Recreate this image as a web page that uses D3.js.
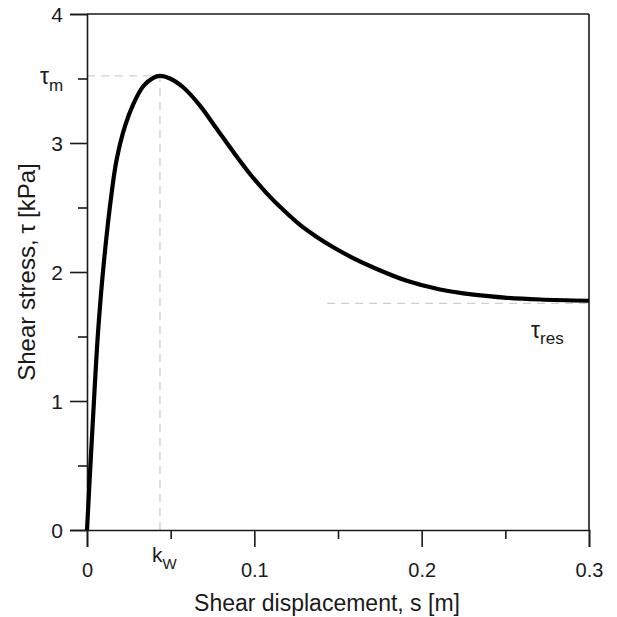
<!DOCTYPE html>
<html>
<head>
<meta charset="utf-8">
<script src="https://cdn.jsdelivr.net/npm/d3@7/dist/d3.min.js"></script>
<style>
  html, body { margin: 0; padding: 0; background: #fff; }
  svg { display: block; }
  text { font-family: "Liberation Sans", Arial, sans-serif; fill: #1a1a1a; }
</style>
</head>
<body>
<script>
// Shear displacement s [m]
const sValues = [0, 0.0022, 0.0044, 0.0068, 0.0102, 0.0147, 0.0177, 0.0227, 0.0276, 0.0336, 0.0396, 0.0436,
  0.0496, 0.0576, 0.0675, 0.0775, 0.0875, 0.0974, 0.1074, 0.1174, 0.1273, 0.1373, 0.1472, 0.1570,
  0.1711, 0.1911, 0.2110, 0.2310, 0.2510, 0.2710, 0.3000];
// Shear stress tau [kPa]
const tauValues = [0, 0.54, 1.06, 1.57, 2.09, 2.61, 2.87, 3.13, 3.30, 3.44, 3.505, 3.52,
  3.50, 3.43, 3.29, 3.11, 2.93, 2.76, 2.61, 2.48, 2.365, 2.272, 2.192, 2.122,
  2.035, 1.932, 1.864, 1.824, 1.80, 1.787, 1.777];

const xTickValues = [0, 0.05, 0.1, 0.15, 0.2, 0.25, 0.3];
const xTickLabels = ["0", "", "0.1", "", "0.2", "", "0.3"];
const yTickValues = [0, 0.5, 1, 1.5, 2, 2.5, 3, 3.5, 4];
const yTickLabels = ["0", "", "1", "", "2", "", "3", "", "4"];

const peakS = 0.0436;   // k_W
const peakTau = 3.52;   // tau_m
const resTau = 1.757;   // tau_res
const resStartS = 0.1435;

const W = 617, H = 617;
const mLeft = 87, mRight = 589, mTop = 14, mBottom = 530;

const svg = d3.select("body").append("svg").attr("width", W).attr("height", H);
const x = d3.scaleLinear().domain([0, 0.3]).range([mLeft, mRight]);
const y = d3.scaleLinear().domain([0, 4]).range([mBottom, mTop]);

const axisColor = "#1a1a1a";

// dashed guide lines
const guides = svg.append("g").attr("stroke", "#cfcfcf").attr("stroke-width", 1.4)
  .attr("stroke-dasharray", "8,6").attr("fill", "none");
guides.append("line").attr("x1", x(0)).attr("x2", x(peakS)).attr("y1", y(peakTau)).attr("y2", y(peakTau));
guides.append("line").attr("x1", x(peakS)).attr("x2", x(peakS)).attr("y1", y(0)).attr("y2", y(peakTau));
guides.append("line").attr("x1", x(resStartS)).attr("x2", x(0.3)).attr("y1", y(resTau)).attr("y2", y(resTau));

// axes
const xAxis = d3.axisBottom(x).tickValues(xTickValues).tickSizeOuter(0)
  .tickSize(17).tickFormat((d, i) => xTickLabels[i]);
const gx = svg.append("g").attr("transform", `translate(0,${mBottom})`).call(xAxis);
gx.selectAll(".tick line").attr("y2", (d, i) => xTickLabels[i] === "" ? 9 : 17);
gx.select(".domain").attr("stroke", axisColor).attr("stroke-width", 1.6);
gx.selectAll(".tick line").attr("stroke", axisColor).attr("stroke-width", 1.6);
gx.selectAll(".tick text").attr("font-size", 20).attr("dy", 0).attr("y", 47)
  .style("font-family", "'Liberation Sans', Arial, sans-serif").attr("fill", "#1a1a1a");

const yAxis = d3.axisLeft(y).tickValues(yTickValues).tickSizeOuter(0)
  .tickSize(17).tickFormat((d, i) => yTickLabels[i]);
const gy = svg.append("g").attr("transform", `translate(${mLeft},0)`).call(yAxis);
gy.selectAll(".tick line").attr("x2", (d, i) => yTickLabels[i] === "" ? -9 : -17);
gy.select(".domain").attr("stroke", axisColor).attr("stroke-width", 1.6);
gy.selectAll(".tick line").attr("stroke", axisColor).attr("stroke-width", 1.6);
gy.selectAll(".tick text").attr("font-size", 21).attr("x", -24).attr("dy", "0.36em")
  .style("font-family", "'Liberation Sans', Arial, sans-serif").attr("fill", "#1a1a1a");

// top and right frame lines
svg.append("line").attr("x1", mLeft).attr("x2", mRight).attr("y1", mTop).attr("y2", mTop)
  .attr("stroke", axisColor).attr("stroke-width", 1.6);
svg.append("line").attr("x1", mRight).attr("x2", mRight).attr("y1", mTop).attr("y2", mBottom)
  .attr("stroke", axisColor).attr("stroke-width", 1.6);

// curve
const data = sValues.map((s, i) => [s, tauValues[i]]);
const line = d3.line().x(d => x(d[0])).y(d => y(d[1])).curve(d3.curveCatmullRom.alpha(0.5));
svg.append("path").datum(data).attr("d", line).attr("fill", "none")
  .attr("stroke", "#000").attr("stroke-width", 4.2).attr("stroke-linejoin", "round");

// annotations
const tm = svg.append("text").attr("x", 40).attr("y", y(3.5) + 5).attr("font-size", 23);
tm.append("tspan").text("τ");
tm.append("tspan").attr("font-size", 17).attr("dy", 7).text("m");

const kw = svg.append("text").attr("x", 152).attr("y", 562).attr("font-size", 21);
kw.append("tspan").text("k");
kw.append("tspan").attr("font-size", 15).attr("dy", 7).text("W");

const tr = svg.append("text").attr("x", 531).attr("y", 338).attr("font-size", 23);
tr.append("tspan").text("τ");
tr.append("tspan").attr("font-size", 17).attr("dy", 6).text("res");

// axis titles
svg.append("text").attr("x", 327).attr("y", 611).attr("text-anchor", "middle")
  .attr("font-size", 23).text("Shear displacement, s [m]");
const yt = svg.append("text").attr("transform", "translate(35,272) rotate(-90)").attr("text-anchor", "middle")
  .attr("font-size", 24);
yt.append("tspan").text("Shear stress,");
yt.append("tspan").attr("dx", 6).text("τ");
yt.append("tspan").attr("dx", 6).text("[kPa]");
</script>
</body>
</html>
